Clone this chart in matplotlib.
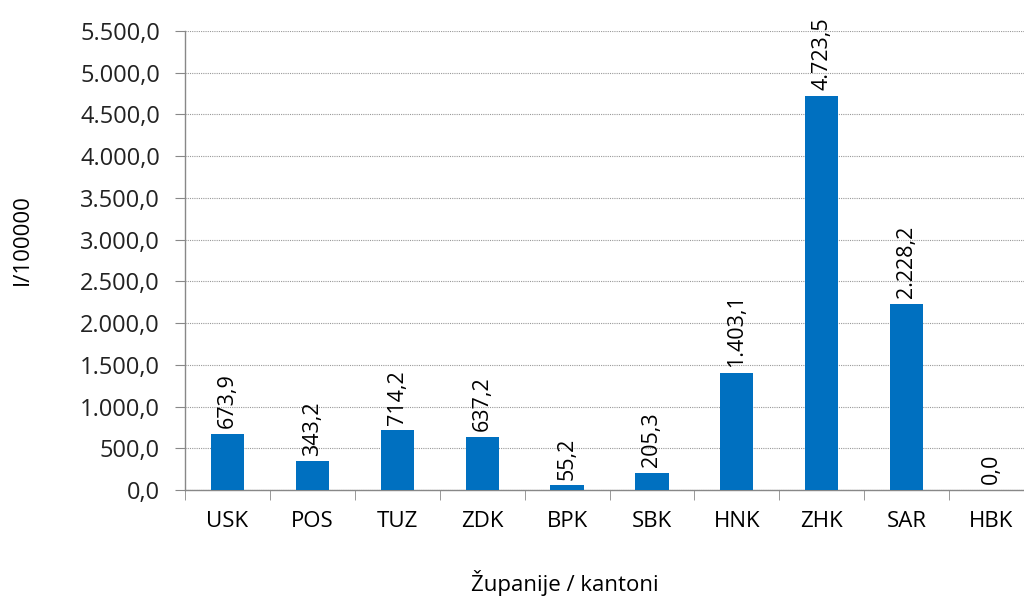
import matplotlib
matplotlib.use("Agg")
import matplotlib.pyplot as plt
from matplotlib.ticker import FuncFormatter, MultipleLocator

categories = ["USK", "POS", "TUZ", "ZDK", "BPK", "SBK", "HNK", "ZHK", "SAR", "HBK"]
values = [673.9, 343.2, 714.2, 637.2, 55.2, 205.3, 1403.1, 4723.5, 2228.2, 0.0]

plt.rcParams['font.family'] = ['Open Sans', 'DejaVu Sans']

def fmt(v, decimals=1):
    s = f"{v:,.{decimals}f}"
    return s.replace(",", "X").replace(".", ",").replace("X", ".")

fig = plt.figure(figsize=(10.24, 5.98), dpi=100)
W, H = 1024, 598
left, right, top, bottom = 185, 1034, 31, 490
ax = fig.add_axes([left / W, 1 - bottom / H, (right - left) / W, (bottom - top) / H])

x = list(range(len(categories)))
bars = ax.bar(x, values, width=0.39, color="#0070C0", zorder=3)
ax.set_xlim(-0.5, len(categories) - 0.5)
ax.set_ylim(0, 5500)
ax.yaxis.set_major_locator(MultipleLocator(500))
ax.yaxis.set_major_formatter(FuncFormatter(lambda v, p: fmt(v)))

ax.grid(axis="y", color="#999999", linestyle=(0, (1, 1)), linewidth=0.8, zorder=0)
for s in ["top", "right"]:
    ax.spines[s].set_visible(False)
for s in ["left", "bottom"]:
    ax.spines[s].set_color("#888888")
    ax.spines[s].set_linewidth(1)

ax.set_xticks(x)
ax.set_xticklabels(categories, fontsize=16, color="#000000")
ax.tick_params(axis="x", length=0, pad=15)
ax.set_xticks([i + 0.5 for i in range(-1, len(categories))], minor=True)
ax.tick_params(axis="x", which="minor", length=7, color="#888888", direction="out")
ax.tick_params(axis="y", length=7, color="#888888", direction="out", labelsize=17, pad=11)
for lbl in ax.get_yticklabels():
    lbl.set_color("#222222")

for xi, v in zip(x, values):
    ax.annotate(fmt(v), xy=(xi, v), xytext=(0, 4), textcoords="offset points",
                rotation=90, ha="center", va="bottom", fontsize=15.5, color="#000000")

fig.text(22 / W, 1 - 240 / H, "I/100000", rotation=90, ha="center", va="center", fontsize=16)
fig.text(565 / W, 1 - 583 / H, "Županije / kantoni", ha="center", va="center", fontsize=16)

fig.savefig("out.png", dpi=100)
